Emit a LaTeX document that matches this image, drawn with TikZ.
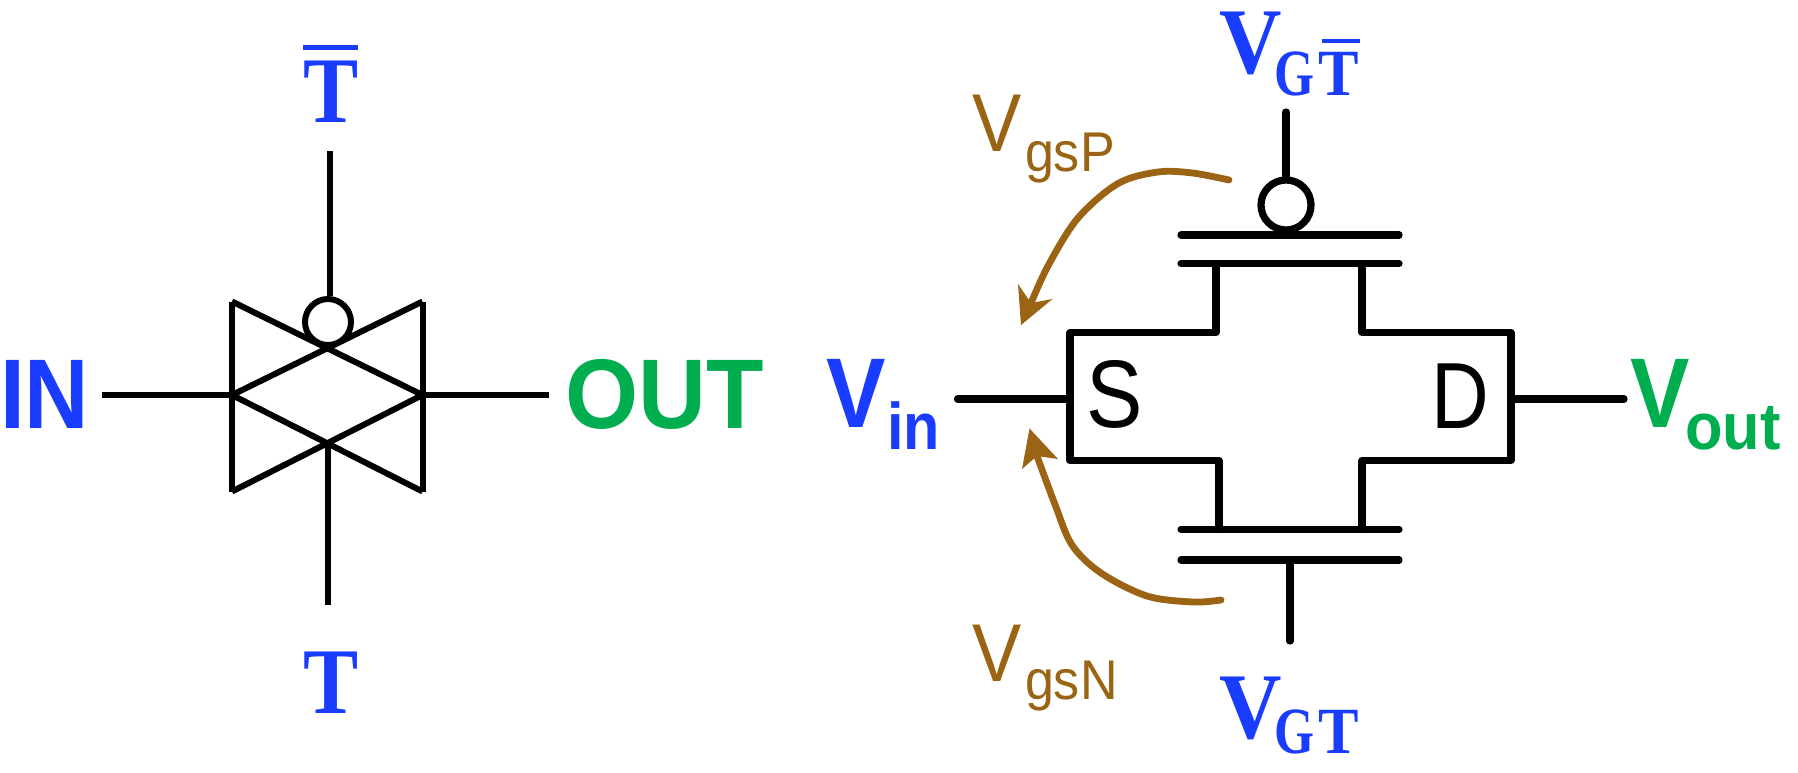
\documentclass[tikz,border=0pt]{standalone}
\usepackage{graphicx}
\usepackage{fontspec}
\setmainfont{Liberation Sans}
\newfontfamily\serifb{Liberation Serif}[BoldFont={Liberation Serif Bold}]
\definecolor{tblue}{HTML}{1A3CFF}
\definecolor{tgreen}{HTML}{00AE50}
\definecolor{tbrown}{HTML}{9A6414}
\newcommand{\sxb}[2]{\scalebox{#1}[1]{#2}}
\newcommand{\fs}[1]{\fontsize{#1}{#1}\selectfont}
\tikzset{
  x=0.5pt,y=-0.5pt,
  txt/.style={inner sep=0pt,outer sep=0pt,anchor=base west},
  sb/.style={txt,font=\fs{49.5}\bfseries},
  subb/.style={txt,font=\fs{33}\bfseries},
  sr/.style={txt,font=\serifb\fs{47}\bfseries,text=tblue},
  srsub/.style={txt,font=\serifb\fs{33}\bfseries,text=tblue},
  br/.style={txt,font=\fs{41},text=tbrown},
  brs/.style={txt,font=\fs{28},text=tbrown},
  wa/.style={draw=black,line width=3pt,line join=miter},
  wb/.style={draw=black,line width=3.6pt,line cap=round,line join=round},
  bar/.style={draw=tblue,line width=2.4pt},
  arc/.style={draw=tbrown,line width=3.4pt,line cap=round},
  hd/.style={fill=tbrown,draw=none}
}
\begin{document}
\begin{tikzpicture}
\useasboundingbox (0,0) rectangle (1798,772);
% --- left: transmission gate symbol
\coordinate (tgtl) at (232,301.5); \coordinate (tgbl) at (232,491.5);
\coordinate (tgml) at (232,395);
\coordinate (tgtr) at (422.5,301.5); \coordinate (tgbr) at (422.5,491.5);
\coordinate (tgmr) at (422.5,395);
\coordinate (tgcb) at (327.5,443);
\coordinate (tin) at (102,395); \coordinate (tout) at (549,395);
\coordinate (ttop) at (330,151); \coordinate (tbot) at (327.5,605);
\node[circle,draw=black,line width=3pt,minimum size=23pt,inner sep=0pt] (tbub) at (328,322) {};
\draw[wa] (tgtl) -- (tgbl);
\draw[wa] (tgtr) -- (tgbr);
\draw[wa] (tgtl) -- (tgmr) -- (tgbl);
\draw[wa] (tgtr) -- (tgml) -- (tgbr);
\draw[wa] (tin) -- (tgml);
\draw[wa] (tgmr) -- (tout);
\draw[wa] (ttop) -- (ttop |- tbub.north);
\draw[wa] (tgcb) -- (tbot);
\node[sb,text=tblue] (lin) at (0,428.5) {\sxb{.9}{IN}};
\node[sb,text=tgreen] (lout) at (565,428.5) {\sxb{.95}{OUT}};
\node[sr] (ltt) at (303,122) {\sxb{.88}{T}};
\coordinate (lba) at (303,47.5); \coordinate (lbb) at (358,47.5);
\draw[bar] (lba) -- (lbb);
\node[sr] (ltb) at (303,713) {\sxb{.88}{T}};
% --- right: transistor pair
\coordinate (pla) at (1181,235); \coordinate (plb) at (1399,235);
\coordinate (pca) at (1181,263.5); \coordinate (pcb) at (1399,263.5);
\coordinate (nca) at (1181,529.5); \coordinate (ncb) at (1399,529.5);
\coordinate (nla) at (1181,560); \coordinate (nlb) at (1399,560);
\coordinate (pgt) at (1286,112);
\coordinate (ngb) at (1290,641); \coordinate (ngt) at (1290,560);
\node[circle,draw=black,line width=3.6pt,minimum size=25pt,inner sep=0pt] (pbub) at (1286,205) {};
\draw[wb] (pgt) -- (pbub.north);
\draw[wb] (pla) -- (plb);
\draw[wb] (pca) -- (pcb);
\draw[wb] (nca) -- (ncb);
\draw[wb] (nla) -- (nlb);
\draw[wb] (ngt) -- (ngb);
\coordinate (s1) at (1216,263.5); \coordinate (s2) at (1216,332.5);
\coordinate (s3) at (1070,332.5); \coordinate (s4) at (1070,460.5);
\coordinate (s5) at (1219,460.5); \coordinate (s6) at (1219,529.5);
\coordinate (d1) at (1362,263.5); \coordinate (d2) at (1362,332.5);
\coordinate (d3) at (1511,332.5); \coordinate (d4) at (1511,460.5);
\coordinate (d5) at (1362,460.5); \coordinate (d6) at (1362,529.5);
\draw[wb] (s1) -- (s2) -- (s3) -- (s4) -- (s5) -- (s6);
\draw[wb] (d1) -- (d2) -- (d3) -- (d4) -- (d5) -- (d6);
\coordinate (vina) at (957.5,399); \coordinate (vinb) at (1070,399);
\coordinate (vouta) at (1511,399); \coordinate (voutb) at (1624,399);
\draw[wb] (vina) -- (vinb);
\draw[wb] (vouta) -- (voutb);
\node[txt,font=\fs{48}] (ns) at (1086,427) {\sxb{.88}{S}};
\node[txt,font=\fs{47}] (nd) at (1431,428) {\sxb{.85}{D}};
% labels
\node[sb,text=tblue] (vinv) at (826,427) {\sxb{.9}{V}};
\node[subb,text=tblue] (vins) at (887,449) {\sxb{.9}{in}};
\node[sb,text=tgreen] (voutv) at (1630,427) {\sxb{.9}{V}};
\node[subb,text=tgreen] (vouts) at (1685,449) {\sxb{.93}{out}};
\node[sr] (vgt) at (1219,73) {\sxb{.92}{V}};
\node[srsub] (vgts) at (1274,95) {\sxb{.78}{G}\hspace{2pt}\sxb{.92}{T}};
\coordinate (vba) at (1322,41); \coordinate (vbb) at (1360,41);
\draw[bar,line width=1.8pt] (vba) -- (vbb);
\node[sr] (vgb) at (1219,738) {\sxb{.92}{V}};
\node[srsub] (vgbs) at (1274,753) {\sxb{.78}{G}\hspace{2pt}\sxb{.92}{T}};
\node[br] (vp) at (972,151) {\sxb{.9}{V}};
\node[brs] (vps) at (1025,171) {\sxb{.93}{gsP}};
\node[br] (vn) at (972,681) {\sxb{.9}{V}};
\node[brs] (vns) at (1025,699) {\sxb{.93}{gsN}};
% arrows
\coordinate (pa0) at (1229,180); \coordinate (pa1) at (1192.5,173); \coordinate (pa2) at (1158,172);
\coordinate (pa3) at (1118,183.5); \coordinate (pa4) at (1078,218); \coordinate (pa5) at (1049,264);
\coordinate (pa6) at (1031,303);
\coordinate (pt) at (1021,325); \coordinate (pb1) at (1018,284); \coordinate (pb2) at (1052.5,299);
\draw[arc] plot[smooth,tension=.55] coordinates {(pa0) (pa1) (pa2) (pa3) (pa4) (pa5) (pa6)};
\fill[hd] (pt) -- (pb1) -- (pa6) -- (pb2) -- cycle;
\coordinate (na0) at (1221,600); \coordinate (na1) at (1193,602); \coordinate (na2) at (1147,596);
\coordinate (na3) at (1101,573); \coordinate (na4) at (1072,545); \coordinate (na5) at (1055,504.5);
\coordinate (na6) at (1037,456);
\coordinate (nt) at (1029.5,428.5); \coordinate (nb1) at (1022,469); \coordinate (nb2) at (1058,459);
\draw[arc] plot[smooth,tension=.55] coordinates {(na0) (na1) (na2) (na3) (na4) (na5) (na6)};
\fill[hd] (nt) -- (nb1) -- (na6) -- (nb2) -- cycle;
\end{tikzpicture}
\end{document}
